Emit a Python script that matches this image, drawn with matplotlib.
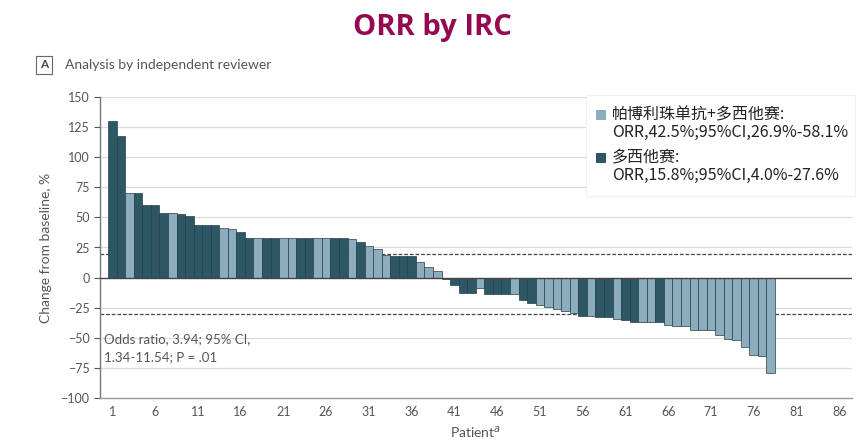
import matplotlib
matplotlib.use("Agg")
import matplotlib.pyplot as plt
from matplotlib.patches import Rectangle
import numpy as np

# ---- data ----
patients = list(range(1, 79))
changes = [130, 118, 70, 70, 60, 60, 54, 54, 53, 51,
           44, 44, 44, 41, 40, 38, 33, 33, 33, 33,
           33, 33, 33, 33, 33, 33, 33, 33, 32, 29.5,
           26.5, 24, 18.5, 18, 18, 18, 13, 8.5, 5.5, -1.5,
           -6, -12.5, -12.5, -9, -13.5, -13.5, -13.5, -14, -18.5, -21,
           -23, -24.5, -26, -27.5, -29, -32, -32, -33, -33, -34.5,
           -35.5, -37, -37, -37, -37, -39, -40, -40, -43.5, -43.5,
           -43.5, -48, -51, -52, -58, -64, -65, -79.5]
# 'P' = pembrolizumab + docetaxel (light), 'D' = docetaxel (dark)
arms = ['D', 'D', 'P', 'D', 'D', 'D', 'D', 'P', 'D', 'D',
        'D', 'D', 'D', 'P', 'P', 'D', 'D', 'P', 'D', 'D',
        'P', 'P', 'D', 'D', 'P', 'P', 'D', 'D', 'P', 'D',
        'P', 'P', 'P', 'D', 'D', 'D', 'P', 'P', 'P', 'D',
        'D', 'D', 'D', 'P', 'D', 'D', 'D', 'P', 'D', 'D',
        'P', 'P', 'P', 'P', 'P', 'D', 'P', 'D', 'D', 'P',
        'D', 'D', 'P', 'P', 'D', 'P', 'P', 'P', 'P', 'P',
        'P', 'P', 'P', 'P', 'P', 'P', 'P', 'P']
yticks = [-100, -75, -50, -25, 0, 25, 50, 75, 100, 125, 150]
xticks = list(range(1, 87, 5))
legend_labels = ["帕博利珠单抗+多西他赛:\nORR,42.5%;95%CI,26.9%-58.1%",
                 "多西他赛:\nORR,15.8%;95%CI,4.0%-27.6%"]
thresholds = [20, -30]

LIGHT = "#8cadbd"
DARK = "#2c5865"
EDGE = "#2a3d44"
GRAY = "#555555"

plt.rcParams['font.family'] = ['Lato', 'DejaVu Sans']

W, H = 865, 444
fig = plt.figure(figsize=(W/100, H/100), dpi=100)
ax = fig.add_axes([100/W, 1-398/H, (852-100)/W, (398-97)/H])

def fx(px):
    return px / W

def fy(py):
    return 1 - py / H

colors = [LIGHT if a == 'P' else DARK for a in arms]
ax.bar(patients, changes, width=1.0, color=colors, edgecolor=EDGE, linewidth=0.5, zorder=3)

ax.set_ylim(-100, 150)
ax.set_xlim(-0.45, 87.5)
ax.set_yticks(yticks)
ax.set_xticks(xticks)
ax.tick_params(axis='y', labelsize=9, colors=GRAY, length=4, width=0.8)
ax.tick_params(axis='x', labelsize=9, colors=GRAY, length=0, pad=6)
for t in yticks:
    if t not in (0, -100):
        ax.axhline(t, color="#dcdcdc", linewidth=0.9, zorder=1)
ax.axhline(0, color="#444444", linewidth=1.0, zorder=4)
for th in thresholds:
    ax.axhline(th, color="#444444", linewidth=0.9, linestyle=(0, (3, 1.5)), zorder=2)

for s in ['top', 'right']:
    ax.spines[s].set_visible(False)
ax.spines['left'].set_color("#777777")
ax.spines['bottom'].set_color("#999999")
ax.spines['left'].set_linewidth(1.0)
ax.spines['bottom'].set_linewidth(1.0)

ax.set_ylabel("Change from baseline, %", fontsize=10, color=GRAY, labelpad=6)
ax.set_xlabel("Patient$^{a}$", fontsize=10, color=GRAY, labelpad=4)

ax.text(0.005, 0.215, "Odds ratio, 3.94; 95% CI,\n1.34-11.54; P = .01", transform=ax.transAxes,
        fontsize=9.5, color=GRAY, va='top', ha='left', linespacing=1.6)

# title and panel label
fig.text(fx(432), fy(28), "ORR by IRC", fontsize=21, fontweight='bold', color="#94094f",
         ha='center', va='center', family=['Open Sans', 'DejaVu Sans'])
fig.text(fx(44), fy(65), "A", fontsize=8.5, fontweight='bold', color="#444444", ha='center', va='center',
         bbox=dict(boxstyle='square,pad=0.3', fc='white', ec='#666666', lw=0.8))
fig.text(fx(65), fy(65), "Analysis by independent reviewer", fontsize=10, color=GRAY,
         ha='left', va='center')

# legend drawn manually (square aligned with first line of each entry)
fig.patches.append(Rectangle((fx(586), fy(196)), fx(855) - fx(586), fy(95) - fy(196),
                             transform=fig.transFigure, facecolor='white', edgecolor='#f0f0f0',
                             linewidth=0.8, zorder=5))
entry_y = [115, 158]
for lab, col, y0 in zip(legend_labels, [LIGHT, DARK], entry_y):
    fig.patches.append(Rectangle((fx(596), fy(y0 + 5)), fx(10), 10 / H,
                                 transform=fig.transFigure, facecolor=col, edgecolor='none', zorder=6))
    fig.text(fx(612), fy(y0 - 9), lab, fontsize=11.5, color="#222222", ha='left', va='top',
             linespacing=1.05, family=['Noto Sans CJK SC', 'DejaVu Sans'], zorder=7)

fig.savefig("out.png", dpi=100, facecolor='white')
